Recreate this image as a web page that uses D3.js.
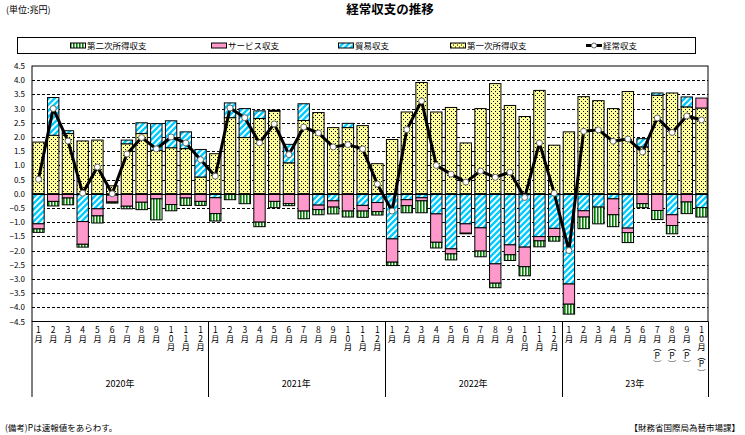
<!DOCTYPE html>
<html>
<head>
<meta charset="utf-8">
<script src="https://cdn.jsdelivr.net/npm/d3@7"></script>
<style>
  body { margin: 0; background: #fff; }
  svg { display: block; }
  text { font-family: "Noto Sans CJK JP", sans-serif; fill: #000; }
  text.month { writing-mode: vertical-rl; text-orientation: upright; }
</style>
</head>
<body>
<div id="chart"></div>
<script>
// months, Jan 2020 .. Oct 2023 (P = preliminary)
const monthLabels = [
  "1月","2月","3月","4月","5月","6月","7月","8月","9月","10月","11月","12月",
  "1月","2月","3月","4月","5月","6月","7月","8月","9月","10月","11月","12月",
  "1月","2月","3月","4月","5月","6月","7月","8月","9月","10月","11月","12月",
  "1月","2月","3月","4月","5月","6月","7月(P)","8月(P)","9月(P)","10月(P)"
];
const yearLabels = ["2020年", "2021年", "2022年", "23年"];
const yearMonths = [12, 12, 12, 10];

// 兆円
const firstIncome = [
  1.82, 2.06, 2.12, 1.86, 1.89, 0.28, 1.76, 2.12, 1.53, 1.62, 1.59, 0.59,
  1.41, 2.68, 1.98, 2.65, 2.91, 1.09, 2.58, 2.86, 2.33, 2.33, 2.40, 1.06,
  1.91, 2.88, 3.92, 2.88, 3.04, 1.79, 3.00, 3.88, 3.11, 2.72, 3.64, 1.71,
  2.18, 3.42, 3.28, 3.00, 3.60, 1.65, 3.47, 3.55, 3.06, 3.02
];
const tradeBalance = [
  -1.06, 1.33, 0.10, -0.98, -0.53, -0.05, 0.13, 0.38, 0.94, 0.95, 0.59, 0.97,
  -0.14, 0.52, 1.02, 0.27, 0.03, 0.65, 0.59, -0.40, -0.25, 0.15, -0.41, -0.31,
  -1.59, -0.21, -0.14, -0.71, -1.94, -1.06, -1.20, -2.47, -1.80, -1.88, -1.51, -1.22,
  -3.18, -0.60, -0.47, -0.18, -1.21, 0.29, 0.08, -0.74, 0.35, -0.49
];
const services = [
  -0.18, -0.27, -0.15, -0.80, -0.25, -0.24, -0.44, -0.30, -0.18, -0.38, -0.15, -0.27,
  -0.56, 0.00, 0.00, -1.00, -0.27, -0.35, -0.61, -0.16, -0.22, -0.61, -0.20, -0.32,
  -0.82, -0.21, -0.11, -1.00, -0.18, -0.33, -0.82, -0.68, -0.35, -0.69, -0.15, -0.29,
  -0.71, -0.22, 0.00, -0.56, -0.16, -0.35, -0.59, -0.38, -0.29, 0.35
];
const secondIncome = [
  -0.12, -0.16, -0.24, -0.10, -0.25, -0.04, -0.09, -0.26, -0.74, -0.22, -0.26, -0.14,
  -0.26, -0.21, -0.35, -0.16, -0.22, -0.07, -0.27, -0.18, -0.24, -0.21, -0.22, -0.12,
  -0.12, -0.25, -0.42, -0.20, -0.21, -0.02, -0.20, -0.16, -0.20, -0.32, -0.21, -0.16,
  -0.35, -0.41, -0.59, -0.42, -0.35, -0.14, -0.32, -0.29, -0.41, -0.33
];
const currentAccount = [
  0.51, 3.00, 1.86, 0.02, 0.94, 0.00, 1.40, 1.98, 1.58, 2.00, 1.79, 1.20,
  0.62, 3.02, 2.68, 1.79, 2.46, 1.38, 2.35, 2.14, 1.65, 1.73, 1.58, 0.34,
  -0.61, 2.26, 3.27, 1.00, 0.69, 0.41, 0.80, 0.58, 0.76, -0.13, 1.79, 0.02,
  -2.00, 2.20, 2.25, 1.85, 1.93, 1.47, 2.67, 2.16, 2.74, 2.60
];
const yTicks = d3.range(-4.5, 4.51, 0.5);

const width = 745, height = 435;
const plotLeft = 32, plotRight = 708, plotTop = 66, plotBottom = 321.5;

const svg = d3.select("#chart").append("svg")
  .attr("width", width)
  .attr("height", height);

// fill patterns
const defs = svg.append("defs");
const pGreen = defs.append("pattern").attr("id", "pGreen")
  .attr("patternUnits", "userSpaceOnUse").attr("width", 3).attr("height", 3);
pGreen.append("rect").attr("width", 3).attr("height", 3).attr("fill", "#fff");
pGreen.append("rect").attr("width", 1.6).attr("height", 3).attr("fill", "#008000");

const pBlue = defs.append("pattern").attr("id", "pBlue")
  .attr("patternUnits", "userSpaceOnUse").attr("width", 6).attr("height", 6);
pBlue.append("rect").attr("width", 6).attr("height", 6).attr("fill", "#00CCFF");
pBlue.append("path").attr("d", "M-1,1L1,-1M0,6L6,0M5,7L7,5")
  .attr("stroke", "#fff").attr("stroke-width", 1.8);

const pYellow = defs.append("pattern").attr("id", "pYellow")
  .attr("patternUnits", "userSpaceOnUse").attr("width", 4).attr("height", 4);
pYellow.append("rect").attr("width", 4).attr("height", 4).attr("fill", "#FFFF99");
pYellow.append("rect").attr("x", 1).attr("y", 1).attr("width", 1).attr("height", 1).attr("fill", "#000");
pYellow.append("rect").attr("x", 3).attr("y", 3).attr("width", 1).attr("height", 1).attr("fill", "#000");

const fills = {
  first: "url(#pYellow)",
  trade: "url(#pBlue)",
  services: "#FF99CC",
  second: "url(#pGreen)"
};

const x = d3.scaleBand()
  .domain(d3.range(monthLabels.length))
  .range([plotLeft, plotRight])
  .paddingInner(0.16)
  .paddingOuter(0.02);

const y = d3.scaleLinear().domain([-4.5, 4.5]).range([plotBottom, plotTop]);

// grid lines
svg.append("g")
  .selectAll("line")
  .data(yTicks.filter(v => Math.abs(v) > 0.01 && Math.abs(v) < 4.49))
  .join("line")
  .attr("x1", plotLeft).attr("x2", plotRight)
  .attr("y1", d => Math.round(y(d)) + 0.5).attr("y2", d => Math.round(y(d)) + 0.5)
  .attr("stroke", "#000")
  .attr("stroke-dasharray", "3,2");

// y axis labels
svg.append("g")
  .selectAll("text")
  .data(yTicks)
  .join("text")
  .attr("x", 25)
  .attr("y", d => y(d) + 3)
  .attr("text-anchor", "end")
  .attr("font-size", 8)
  .text(d => d3.format(".1f")(d));

// stacked bars
const rows = monthLabels.map((m, i) => ({
  i,
  first: firstIncome[i],
  trade: tradeBalance[i],
  services: services[i],
  second: secondIncome[i]
}));
const series = d3.stack()
  .keys(["first", "trade", "services", "second"])
  .offset(d3.stackOffsetDiverging)(rows);

svg.append("g")
  .selectAll("g")
  .data(series)
  .join("g")
  .attr("fill", d => fills[d.key])
  .selectAll("rect")
  .data(d => d.filter(s => s[1] - s[0] !== 0))
  .join("rect")
  .attr("x", d => x(d.data.i) + 0.5)
  .attr("width", x.bandwidth() - 1)
  .attr("y", d => y(d[1]))
  .attr("height", d => y(d[0]) - y(d[1]))
  .attr("stroke", "#000")
  .attr("stroke-width", 1);

// zero line and frame
svg.append("line")
  .attr("x1", plotLeft).attr("x2", plotRight)
  .attr("y1", Math.round(y(0)) + 0.5).attr("y2", Math.round(y(0)) + 0.5)
  .attr("stroke", "#000");
svg.append("rect")
  .attr("x", plotLeft).attr("y", plotTop)
  .attr("width", plotRight - plotLeft).attr("height", plotBottom - plotTop)
  .attr("fill", "none").attr("stroke", "#000");

// current account line
const cx = i => x(i) + x.bandwidth() / 2;
svg.append("path")
  .datum(currentAccount)
  .attr("fill", "none")
  .attr("stroke", "#000")
  .attr("stroke-width", 3)
  .attr("stroke-linejoin", "round")
  .attr("d", d3.line().x((d, i) => cx(i)).y(d => y(d)));
svg.append("g")
  .selectAll("circle")
  .data(currentAccount)
  .join("circle")
  .attr("cx", (d, i) => cx(i))
  .attr("cy", d => y(d))
  .attr("r", 3)
  .attr("fill", "#fff")
  .attr("stroke", "#666")
  .attr("stroke-width", 1);

// month labels, written vertically (one column per month)
const vert = s => s.replace("(", "︵").replace(")", "︶");
svg.append("g")
  .selectAll("text")
  .data(monthLabels)
  .join("text")
  .attr("class", "month")
  .attr("font-size", 8.5)
  .attr("x", (d, i) => cx(i))
  .attr("y", 326)
  .text(d => vert(d));

// year separators and labels
let acc = 0;
const yearStart = yearMonths.map(n => { const s = acc; acc += n; return s; });
const xEdge = i => i >= monthLabels.length ? plotRight : x(i) - x.step() * x.paddingInner() / 2;
svg.append("g")
  .selectAll("line")
  .data(yearStart.concat([monthLabels.length]))
  .join("line")
  .attr("x1", d => d === 0 ? plotLeft : Math.round(xEdge(d)) + 0.5)
  .attr("x2", d => d === 0 ? plotLeft : Math.round(xEdge(d)) + 0.5)
  .attr("y1", plotBottom)
  .attr("y2", 397)
  .attr("stroke", "#000");
svg.append("g")
  .selectAll("text")
  .data(yearLabels)
  .join("text")
  .attr("x", (d, k) => {
    const a = k === 0 ? plotLeft : xEdge(yearStart[k]);
    const b = xEdge(yearStart[k] + yearMonths[k]);
    return (a + b) / 2;
  })
  .attr("y", 387)
  .attr("text-anchor", "middle")
  .attr("font-size", 9)
  .text(d => d);

// titles
svg.append("text").attr("x", 6).attr("y", 13).attr("font-size", 9).text("(単位:兆円)");
svg.append("text").attr("x", 390).attr("y", 14).attr("text-anchor", "middle")
  .attr("font-size", 12.5).attr("font-weight", "bold").text("経常収支の推移");
svg.append("text").attr("x", 5).attr("y", 431).attr("font-size", 8.5).text("(備考)Pは速報値をあらわす。");
svg.append("text").attr("x", 740).attr("y", 431).attr("text-anchor", "end")
  .attr("font-size", 8.5).text("【財務省国際局為替市場課】");

// legend
const legendItems = [
  { name: "第二次所得収支", fill: fills.second, x: 70 },
  { name: "サービス収支", fill: fills.services, x: 211 },
  { name: "貿易収支", fill: fills.trade, x: 338 },
  { name: "第一次所得収支", fill: fills.first, x: 450 },
  { name: "経常収支", fill: null, x: 586 }
];
svg.append("rect")
  .attr("x", 17.5).attr("y", 37.5).attr("width", 678).attr("height", 16)
  .attr("fill", "#fff").attr("stroke", "#000");
const lg = svg.append("g").selectAll("g").data(legendItems).join("g")
  .attr("transform", d => `translate(${d.x},45.5)`);
lg.filter(d => d.fill).append("rect")
  .attr("x", 0.5).attr("y", -2.5).attr("width", 15).attr("height", 5)
  .attr("fill", d => d.fill).attr("stroke", "#000");
lg.filter(d => !d.fill).append("line")
  .attr("x1", 0).attr("x2", 16).attr("stroke", "#000").attr("stroke-width", 3);
lg.filter(d => !d.fill).append("circle")
  .attr("cx", 8).attr("r", 2.5).attr("fill", "#fff").attr("stroke", "#666");
lg.append("text")
  .attr("x", 17).attr("y", 3)
  .attr("font-size", 8.5)
  .text(d => d.name);
</script>
</body>
</html>
